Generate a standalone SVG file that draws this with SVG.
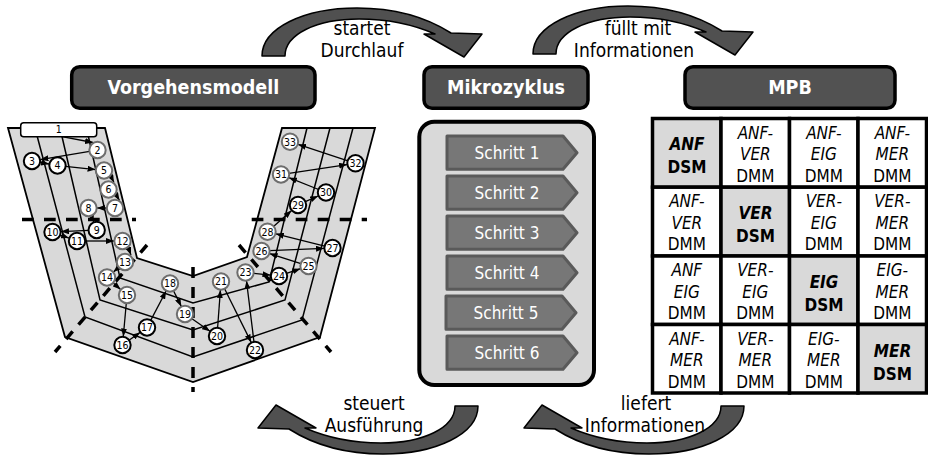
<svg xmlns="http://www.w3.org/2000/svg" width="928" height="455" viewBox="0 0 928 455">
<defs>
<style>
text{font-family:'DejaVu Sans Condensed','DejaVu Sans',sans-serif;font-stretch:condensed;}
.vm{fill:#d9d9d9;stroke:#000;stroke-width:1.8;stroke-linejoin:miter}
.vl{fill:none;stroke:#000;stroke-width:1.5}
.dash{fill:none;stroke:#000;stroke-width:3.5}
.c{stroke:#000;stroke-width:1.3;fill:none;marker-end:url(#ah)}
.nb circle{fill:#fff;stroke:#000;stroke-width:2}
.ng circle{fill:#fff;stroke:#6d6d6d;stroke-width:2}
.nt{font-size:10.5px;text-anchor:middle;fill:#000}
.hdr rect{fill:#525252;stroke:#000;stroke-width:3.5}
.hdr text{font-weight:bold;font-size:19.5px;fill:#fff;text-anchor:middle}
.step path{fill:#777;stroke:#5a5a5a;stroke-width:3;stroke-linejoin:round}
.step text{font-size:17px;fill:#fff;text-anchor:middle}
.cell rect{fill:#fff;stroke:#000;stroke-width:3.5}
.cell.d rect{fill:#d9d9d9}
.cell text{font-size:17px;text-anchor:middle;fill:#000}
.it{font-style:italic}
.bi{font-weight:bold;font-style:italic;font-size:20px}
.b{font-weight:bold;font-size:20px}
.ca{fill:#505050;stroke:#000;stroke-width:1.5;stroke-linejoin:round}
.lbl{font-size:19px;text-anchor:middle;fill:#000}
</style>
<marker id="ah" viewBox="0 0 8 6" refX="8" refY="3" markerWidth="8" markerHeight="6" markerUnits="userSpaceOnUse" orient="auto"><path d="M0,0 L8,3 L0,6 z" fill="#000"/></marker>
<path id="carrow" class="ca" d="M0,0 C0,-28 42,-48 95,-48 C135,-48 167,-37 189,-23 L220,-22 L202,1 L162,-22 L173,-22 C150,-32 125,-37 97,-37 C55,-37 23,-22 23,0 Z"/>
</defs>

<g id="vmodel">
<polygon class="vm" points="8,128 65,337 193,382 320,337 375,128 282,128 247,257 193,276 137,258 105,128"/>
<polyline class="vl" points="35,128 85,317 193,357 302,320 353,128"/>
<polyline class="vl" points="60,128 100,300 193,330 285,300 330,128"/>
<polyline class="vl" points="86.5,128 120,278 193,303 269,282 307,128"/>
<path class="dash" stroke-dasharray="11.7 10.3" d="M22,219.5 H136 M251.7,219.5 H367"/>
<path class="dash" stroke-dasharray="10 9" d="M147,245 L55,352 M239,245 L331,352"/>
<path class="dash" stroke-dasharray="11 9" d="M193,267 V392"/>
</g>

<g id="connectors">
<line class="c" x1="62" y1="136.7" x2="93" y2="142.5"/>
<line class="c" x1="89.6" y1="151.3" x2="40.4" y2="159.6"/>
<line class="c" x1="39.9" y1="162.4" x2="49.1" y2="164"/>
<line class="c" x1="65.5" y1="166.4" x2="95.6" y2="169.6"/>
<line class="c" x1="110.5" y1="175.5" x2="114" y2="182.5"/>
<line class="c" x1="115" y1="193" x2="119.5" y2="200.5"/>
<line class="c" x1="107" y1="208" x2="97" y2="208"/>
<line class="c" x1="91.3" y1="215.5" x2="93.7" y2="222"/>
<line class="c" x1="88.7" y1="230.4" x2="61" y2="231.6"/>
<line class="c" x1="60" y1="235" x2="69" y2="238.1"/>
<line class="c" x1="85" y1="241" x2="114" y2="241"/>
<line class="c" x1="128" y1="247" x2="131" y2="255"/>
<line class="c" x1="118.9" y1="267.2" x2="113.4" y2="272"/>
<line class="c" x1="113" y1="282.8" x2="120.6" y2="289.4"/>
<line class="c" x1="126.3" y1="303" x2="123.3" y2="336.5"/>
<line class="c" x1="129" y1="340.3" x2="140.1" y2="332.4"/>
<line class="c" x1="150.7" y1="320.4" x2="166.1" y2="291"/>
<line class="c" x1="173.5" y1="290.7" x2="181.3" y2="306.4"/>
<line class="c" x1="191.6" y1="318.5" x2="210" y2="331.2"/>
<line class="c" x1="217.6" y1="328" x2="220.4" y2="290"/>
<line class="c" x1="224.6" y1="288.7" x2="251.2" y2="342.4"/>
<line class="c" x1="254" y1="342.1" x2="246.5" y2="280.9"/>
<line class="c" x1="253.5" y1="273.3" x2="270.5" y2="275.1"/>
<line class="c" x1="286.6" y1="273.4" x2="300.5" y2="268.7"/>
<line class="c" x1="300.9" y1="263.6" x2="269.6" y2="253.6"/>
<line class="c" x1="269.5" y1="250.7" x2="324" y2="248.4"/>
<line class="c" x1="324.7" y1="246.1" x2="275.8" y2="233.8"/>
<line class="c" x1="273.5" y1="226.4" x2="291.6" y2="210.6"/>
<line class="c" x1="305.3" y1="201.7" x2="318.2" y2="196"/>
<line class="c" x1="318.6" y1="189.5" x2="288.9" y2="177.7"/>
<line class="c" x1="288.9" y1="173.3" x2="347.1" y2="164.6"/>
<line class="c" x1="347.9" y1="160.8" x2="298.1" y2="144.4"/>
<use href="#carrow" transform="translate(262,56)"/>
<use href="#carrow" transform="translate(533,54)"/>
<use href="#carrow" transform="translate(478,406) rotate(180)"/>
<use href="#carrow" transform="translate(744,406) rotate(180)"/>
<text class="lbl" x="362" y="35">startet</text>
<text class="lbl" x="362" y="57">Durchlauf</text>
<text class="lbl" x="638" y="35">füllt mit</text>
<text class="lbl" x="634" y="57">Informationen</text>
<text class="lbl" x="374" y="409.5">steuert</text>
<text class="lbl" x="374" y="431.5">Ausführung</text>
<text class="lbl" x="646" y="409.5">liefert</text>
<text class="lbl" x="645" y="431.5">Informationen</text>
</g>

<g id="n1"><rect x="20.7" y="122.7" width="76" height="14" rx="3" fill="#fff" stroke="#000" stroke-width="1.5"/><text class="nt" x="58.7" y="133.4">1</text></g>
<g id="n2" class="ng"><circle cx="97.5" cy="150" r="8.2"/><text class="nt" x="97.5" y="153.8">2</text></g>
<g id="n3" class="nb"><circle cx="32" cy="161" r="8.2"/><text class="nt" x="32" y="164.8">3</text></g>
<g id="n4" class="nb"><circle cx="57.5" cy="165.5" r="8.2"/><text class="nt" x="57.5" y="169.3">4</text></g>
<g id="n5" class="ng"><circle cx="104" cy="170.5" r="8.2"/><text class="nt" x="104" y="174.3">5</text></g>
<g id="n6" class="ng"><circle cx="108.5" cy="189.5" r="8.2"/><text class="nt" x="108.5" y="193.3">6</text></g>
<g id="n7" class="ng"><circle cx="115" cy="208" r="8.2"/><text class="nt" x="115" y="211.8">7</text></g>
<g id="n8" class="ng"><circle cx="88.5" cy="208" r="8.2"/><text class="nt" x="88.5" y="211.8">8</text></g>
<g id="n9" class="nb"><circle cx="96.7" cy="230" r="8.2"/><text class="nt" x="96.7" y="233.8">9</text></g>
<g id="n10" class="nb"><circle cx="52.5" cy="232" r="8.2"/><text class="nt" x="52.5" y="235.8">10</text></g>
<g id="n11" class="nb"><circle cx="77" cy="241" r="8.2"/><text class="nt" x="77" y="244.8">11</text></g>
<g id="n12" class="ng"><circle cx="122.5" cy="241" r="8.2"/><text class="nt" x="122.5" y="244.8">12</text></g>
<g id="n13" class="ng"><circle cx="125" cy="262" r="8.2"/><text class="nt" x="125" y="265.8">13</text></g>
<g id="n14" class="ng"><circle cx="107" cy="277.5" r="8.2"/><text class="nt" x="107" y="281.3">14</text></g>
<g id="n15" class="ng"><circle cx="127" cy="295" r="8.2"/><text class="nt" x="127" y="298.8">15</text></g>
<g id="n16" class="nb"><circle cx="122.5" cy="345" r="8.2"/><text class="nt" x="122.5" y="348.8">16</text></g>
<g id="n17" class="nb"><circle cx="147" cy="327.5" r="8.2"/><text class="nt" x="147" y="331.3">17</text></g>
<g id="n18" class="ng"><circle cx="170" cy="283.5" r="8.2"/><text class="nt" x="170" y="287.3">18</text></g>
<g id="n19" class="ng"><circle cx="185" cy="314" r="8.2"/><text class="nt" x="185" y="317.8">19</text></g>
<g id="n20" class="nb"><circle cx="217" cy="336" r="8.2"/><text class="nt" x="217" y="339.8">20</text></g>
<g id="n21" class="ng"><circle cx="221" cy="281.5" r="8.2"/><text class="nt" x="221" y="285.3">21</text></g>
<g id="n22" class="nb"><circle cx="255" cy="350" r="8.2"/><text class="nt" x="255" y="353.8">22</text></g>
<g id="n23" class="ng"><circle cx="245.5" cy="272.5" r="8.2"/><text class="nt" x="245.5" y="276.3">23</text></g>
<g id="n24" class="nb"><circle cx="279" cy="276" r="8.2"/><text class="nt" x="279" y="279.8">24</text></g>
<g id="n25" class="ng"><circle cx="308.5" cy="266" r="8.2"/><text class="nt" x="308.5" y="269.8">25</text></g>
<g id="n26" class="ng"><circle cx="261.5" cy="251" r="8.2"/><text class="nt" x="261.5" y="254.8">26</text></g>
<g id="n27" class="nb"><circle cx="332.5" cy="248" r="8.2"/><text class="nt" x="332.5" y="251.8">27</text></g>
<g id="n28" class="ng"><circle cx="267.5" cy="231.7" r="8.2"/><text class="nt" x="267.5" y="235.5">28</text></g>
<g id="n29" class="nb"><circle cx="298" cy="205" r="8.2"/><text class="nt" x="298" y="208.8">29</text></g>
<g id="n30" class="nb"><circle cx="326" cy="192.5" r="8.2"/><text class="nt" x="326" y="196.3">30</text></g>
<g id="n31" class="ng"><circle cx="281" cy="174.5" r="8.2"/><text class="nt" x="281" y="178.3">31</text></g>
<g id="n32" class="nb"><circle cx="355.5" cy="163.3" r="8.2"/><text class="nt" x="355.5" y="167.1">32</text></g>
<g id="n33" class="ng"><circle cx="290" cy="141.7" r="8.2"/><text class="nt" x="290" y="145.5">33</text></g>

<g id="hdr-vorgehensmodell" class="hdr"><rect x="71.7" y="66.7" width="243.3" height="41.6" rx="8"/><text x="193.3" y="94">Vorgehensmodell</text></g>
<g id="hdr-mikrozyklus" class="hdr"><rect x="424" y="66.7" width="164" height="41.6" rx="8"/><text x="506" y="94">Mikrozyklus</text></g>
<g id="hdr-mpb" class="hdr"><rect x="685" y="66.7" width="210" height="41.6" rx="8"/><text x="790" y="94">MPB</text></g>

<g id="mikrozyklus"><rect x="419.3" y="121.7" width="174.7" height="263.3" rx="15" fill="#d9d9d9" stroke="#000" stroke-width="4"/></g>
<g id="step1" class="step"><path d="M447,136 H563 L577,152.7 L563,169.3 H447 Z"/><text x="507" y="159">Schritt 1</text></g>
<g id="step2" class="step"><path d="M447,176 H563 L577,192.7 L563,209.3 H447 Z"/><text x="507" y="199">Schritt 2</text></g>
<g id="step3" class="step"><path d="M447,216 H563 L577,232.7 L563,249.3 H447 Z"/><text x="507" y="239">Schritt 3</text></g>
<g id="step4" class="step"><path d="M447,256 H563 L577,272.7 L563,289.3 H447 Z"/><text x="507" y="279">Schritt 4</text></g>
<g id="step5" class="step"><path d="M446,296 H562 L576,312.7 L562,329.3 H446 Z"/><text x="506" y="319">Schritt 5</text></g>
<g id="step6" class="step"><path d="M447,336 H563 L577,352.7 L563,369.3 H447 Z"/><text x="507" y="359">Schritt 6</text></g>

<g id="mpb">
<g class="cell d"><rect x="652.5" y="118.5" width="68.5" height="68.7"/><text x="687" y="150" class="bi">ANF</text><text x="687" y="173" class="b">DSM</text></g>
<g class="cell"><rect x="721" y="118.5" width="68.5" height="68.7"/><text x="755.3" y="138.5" class="it">ANF-</text><text x="755.3" y="160" class="it">VER</text><text x="755.3" y="181.5">DMM</text></g>
<g class="cell"><rect x="789.5" y="118.5" width="68.5" height="68.7"/><text x="823.8" y="138.5" class="it">ANF-</text><text x="823.8" y="160" class="it">EIG</text><text x="823.8" y="181.5">DMM</text></g>
<g class="cell"><rect x="858" y="118.5" width="68.5" height="68.7"/><text x="892.3" y="138.5" class="it">ANF-</text><text x="892.3" y="160" class="it">MER</text><text x="892.3" y="181.5">DMM</text></g>

<g class="cell"><rect x="652.5" y="187.2" width="68.5" height="68.8"/><text x="686.8" y="207.2" class="it">ANF-</text><text x="686.8" y="228.7" class="it">VER</text><text x="686.8" y="250.2">DMM</text></g>
<g class="cell d"><rect x="721" y="187.2" width="68.5" height="68.8"/><text x="755.5" y="218.7" class="bi">VER</text><text x="755.5" y="241.7" class="b">DSM</text></g>
<g class="cell"><rect x="789.5" y="187.2" width="68.5" height="68.8"/><text x="823.8" y="207.2" class="it">VER-</text><text x="823.8" y="228.7" class="it">EIG</text><text x="823.8" y="250.2">DMM</text></g>
<g class="cell"><rect x="858" y="187.2" width="68.5" height="68.8"/><text x="892.3" y="207.2" class="it">VER-</text><text x="892.3" y="228.7" class="it">MER</text><text x="892.3" y="250.2">DMM</text></g>

<g class="cell"><rect x="652.5" y="256" width="68.5" height="68.5"/><text x="686.8" y="276" class="it">ANF</text><text x="686.8" y="297.5" class="it">EIG</text><text x="686.8" y="319">DMM</text></g>
<g class="cell"><rect x="721" y="256" width="68.5" height="68.5"/><text x="755.3" y="276" class="it">VER-</text><text x="755.3" y="297.5" class="it">EIG</text><text x="755.3" y="319">DMM</text></g>
<g class="cell d"><rect x="789.5" y="256" width="68.5" height="68.5"/><text x="824" y="288" class="bi">EIG</text><text x="824" y="310.5" class="b">DSM</text></g>
<g class="cell"><rect x="858" y="256" width="68.5" height="68.5"/><text x="892.3" y="276" class="it">EIG-</text><text x="892.3" y="297.5" class="it">MER</text><text x="892.3" y="319">DMM</text></g>

<g class="cell"><rect x="652.5" y="324.5" width="68.5" height="68.5"/><text x="686.8" y="344.5" class="it">ANF-</text><text x="686.8" y="366" class="it">MER</text><text x="686.8" y="387.5">DMM</text></g>
<g class="cell"><rect x="721" y="324.5" width="68.5" height="68.5"/><text x="755.3" y="344.5" class="it">VER-</text><text x="755.3" y="366" class="it">MER</text><text x="755.3" y="387.5">DMM</text></g>
<g class="cell"><rect x="789.5" y="324.5" width="68.5" height="68.5"/><text x="823.8" y="344.5" class="it">EIG-</text><text x="823.8" y="366" class="it">MER</text><text x="823.8" y="387.5">DMM</text></g>
<g class="cell d"><rect x="858" y="324.5" width="68.5" height="68.5"/><text x="892.5" y="356.5" class="bi">MER</text><text x="892.5" y="379.5" class="b">DSM</text></g>
</g>
</svg>
